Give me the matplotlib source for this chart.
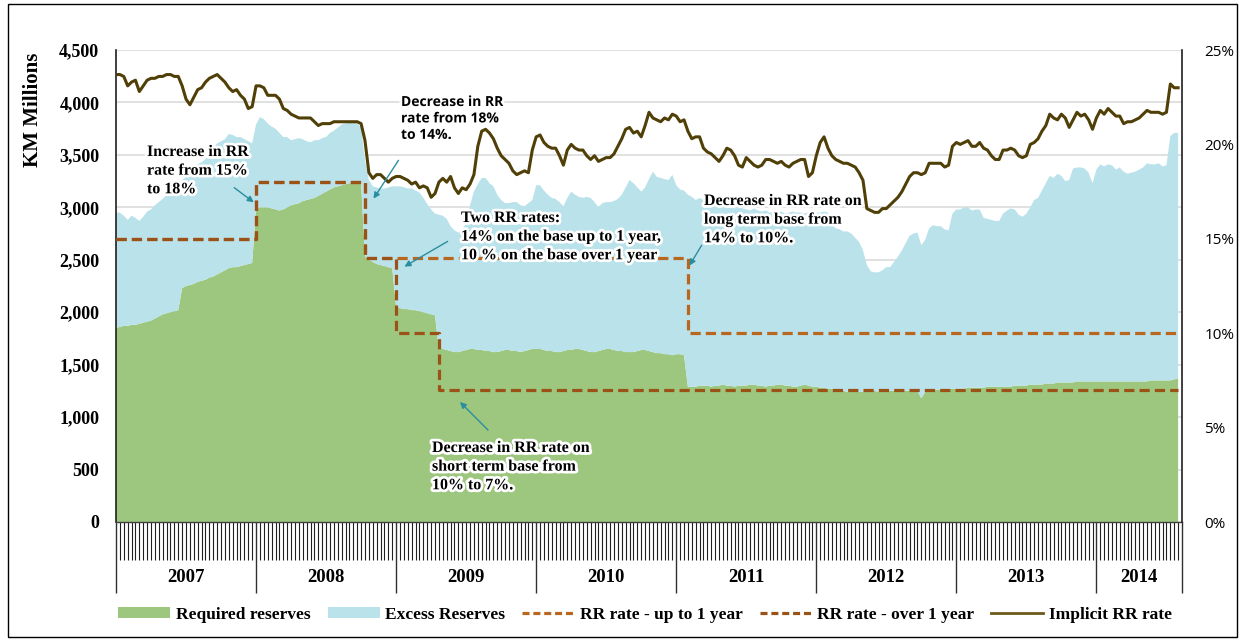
import numpy as np
import matplotlib
matplotlib.use('Agg')
import matplotlib.pyplot as plt
import matplotlib.patheffects as pe
from matplotlib.patches import Patch, Rectangle
from matplotlib.lines import Line2D
from matplotlib.transforms import blended_transform_factory

# ---------------- data (10-day periods, 36 per year) ----------------
years = ['2007', '2008', '2009', '2010', '2011', '2012', '2013', '2014']
periods_per_year = [36, 36, 36, 36, 36, 36, 36, 22]

req_2007 = [1850,1860,1870,1870,1880,1880,1890,1900,1910,1920,1940,1960,1980,1990,2000,2010,2020,2230,
            2250,2260,2270,2290,2300,2310,2330,2340,2360,2380,2400,2420,2430,2430,2440,2450,2460,2470]
req_2008 = [2990,3000,3000,3000,2990,2980,2970,2980,3000,3020,3030,3040,3060,3070,3080,3090,3110,3130,
            3150,3170,3190,3200,3210,3220,3230,3230,3230,3230,2530,2500,2480,2460,2450,2440,2430,2420]
req_2009 = [2050,2040,2030,2030,2020,2020,2010,2000,1990,1980,1970,1650,1650,1640,1630,1620,1620,1630,
            1640,1650,1650,1640,1640,1630,1630,1620,1620,1630,1640,1640,1630,1630,1620,1630,1640,1650]
req_2010 = [1650,1650,1640,1630,1630,1620,1620,1630,1640,1640,1650,1650,1640,1630,1620,1620,1630,1640,
            1650,1650,1640,1630,1630,1620,1620,1620,1630,1640,1640,1630,1620,1610,1610,1600,1600,1590]
req_2011 = [1600,1600,1590,1290,1290,1290,1300,1300,1300,1290,1300,1300,1310,1300,1300,1290,1300,1300,
            1300,1310,1310,1300,1300,1290,1300,1300,1310,1310,1300,1300,1290,1290,1300,1310,1300,1290]
req_2012 = [1290,1280,1280,1270,1270,1260,1250,1250,1240,1240,1240,1240,1240,1250,1250,1250,1240,1240,
            1250,1250,1250,1240,1250,1250,1250,1250,1250,1180,1240,1250,1260,1260,1260,1260,1270,1270]
req_2013 = [1270,1270,1270,1280,1280,1280,1280,1280,1290,1290,1290,1290,1290,1290,1290,1300,1300,1300,
            1300,1310,1310,1310,1310,1320,1320,1320,1330,1330,1330,1330,1330,1340,1340,1340,1340,1340]
req_2014 = [1340,1340,1340,1340,1340,1340,1340,1340,1340,1340,1340,1340,1340,1340,1350,1350,1350,1350,
            1350,1350,1360,1370]

# total reserves (required + excess), KM millions
tot_2007 = [2950,2950,2920,2880,2920,2900,2870,2910,2960,2980,3020,3050,3080,3120,3160,3180,3220,3260,
            3290,3340,3380,3410,3430,3460,3490,3560,3610,3630,3650,3700,3690,3670,3670,3650,3630,3610]
tot_2008 = [3790,3860,3840,3800,3770,3750,3710,3670,3670,3640,3650,3660,3650,3630,3620,3640,3640,3660,
            3670,3710,3730,3760,3790,3800,3810,3810,3800,3760,3450,3260,3200,3190,3180,3180,3190,3200]
tot_2009 = [3200,3200,3190,3180,3180,3160,3140,3090,3030,2980,2940,2930,2920,2890,2820,2780,2760,2770,
            2860,3020,3150,3220,3280,3280,3230,3200,3120,3070,3040,3040,3050,3050,3020,3010,3040,3070]
tot_2010 = [3210,3210,3160,3120,3090,3080,3050,3010,3090,3150,3120,3100,3090,3100,3090,3050,3000,3040,
            3050,3050,3060,3080,3120,3190,3260,3230,3190,3150,3190,3270,3340,3290,3280,3270,3260,3310]
tot_2011 = [3210,3170,3160,3120,3100,3070,3090,3070,3050,3040,3030,3020,3010,3020,3000,2990,3010,2990,
            2980,2970,2990,2970,2960,2970,2950,2960,2950,2960,2940,2950,2960,2950,2950,2940,2960,2950]
tot_2012 = [2950,2950,2960,2950,2840,2800,2790,2770,2770,2750,2710,2670,2590,2450,2390,2380,2380,2400,
            2430,2430,2480,2530,2590,2660,2730,2750,2760,2640,2690,2800,2830,2820,2820,2790,2780,2940]
tot_2013 = [2980,2980,3000,3000,2970,2980,2980,2900,2890,2880,2870,2870,2940,2970,2990,2980,2930,2910,
            2940,3000,3070,3090,3160,3230,3300,3280,3320,3300,3250,3260,3370,3380,3380,3370,3330,3230]
tot_2014 = [3360,3410,3390,3410,3400,3360,3380,3340,3320,3330,3340,3360,3380,3420,3410,3410,3420,3390,
            3400,3680,3710,3710]

# implicit RR rate, %
rate_2007 = [23.7,23.7,23.6,23.1,23.3,23.4,22.8,23.1,23.4,23.5,23.5,23.6,23.6,23.7,23.7,23.6,23.6,23.1,
             22.4,22.1,22.5,22.9,23.0,23.3,23.5,23.6,23.7,23.5,23.3,23.0,22.8,22.9,22.6,22.4,21.9,22.0]
rate_2008 = [23.1,23.1,23.0,22.6,22.6,22.6,22.4,21.9,21.8,21.6,21.5,21.4,21.4,21.4,21.4,21.2,21.0,21.1,
             21.1,21.1,21.2,21.2,21.2,21.2,21.2,21.2,21.2,21.1,20.2,18.5,18.2,18.4,18.4,18.2,18.0,18.2]
rate_2009 = [18.3,18.3,18.2,18.1,17.9,18.0,17.7,17.8,17.7,17.2,17.4,18.0,18.2,18.0,18.3,17.7,17.4,17.7,
             17.6,17.9,18.4,19.9,20.7,20.8,20.6,20.3,19.8,19.4,19.2,19.0,18.6,18.4,18.5,18.6,18.5,19.7]
rate_2010 = [20.4,20.5,20.1,19.9,19.8,19.8,19.4,18.9,19.7,20.0,19.8,19.7,19.7,19.4,19.2,19.4,19.1,19.2,
             19.3,19.3,19.5,19.9,20.3,20.8,20.9,20.6,20.7,20.4,21.0,21.7,21.4,21.3,21.2,21.4,21.3,21.6]
rate_2011 = [21.5,21.2,21.3,20.7,20.3,20.4,20.4,19.8,19.6,19.5,19.3,19.1,19.4,19.8,19.7,19.4,18.9,18.8,
             19.3,19.1,18.9,18.8,18.9,19.2,19.2,19.1,19.0,19.1,18.9,18.8,19.0,19.1,19.2,19.2,18.3,18.5]
rate_2012 = [19.4,20.1,20.4,19.8,19.4,19.2,19.1,19.0,19.0,18.9,18.8,18.5,18.1,16.6,16.5,16.4,16.4,16.6,
             16.6,16.8,17.0,17.2,17.5,17.9,18.3,18.5,18.5,18.4,18.5,19.0,19.0,19.0,19.0,18.8,18.9,19.9]
rate_2013 = [20.1,20.0,20.1,20.2,19.9,19.9,20.1,19.8,19.7,19.4,19.2,19.2,19.7,19.7,19.8,19.7,19.4,19.3,
             19.4,20.0,20.1,20.3,20.7,21.0,21.6,21.4,21.3,21.6,21.4,20.9,21.3,21.7,21.5,21.6,21.3,20.8]
rate_2014 = [21.4,21.8,21.6,21.9,21.7,21.5,21.5,21.1,21.2,21.2,21.3,21.4,21.6,21.8,21.7,21.7,21.7,21.6,
             21.7,23.2,23.0,23.0]

# statutory RR rates: period index where each rate starts, and the rate (%)
rr_short_start = [0, 36, 64, 147]
rr_short_vals = [15, 18, 14, 10]
rr_long_start = [0, 36, 64, 72, 83]
rr_long_vals = [15, 18, 14, 10, 7]

# ---------------- assemble ----------------
required = np.array(req_2007 + req_2008 + req_2009 + req_2010 + req_2011 + req_2012 + req_2013 + req_2014, float)
total = np.array(tot_2007 + tot_2008 + tot_2009 + tot_2010 + tot_2011 + tot_2012 + tot_2013 + tot_2014, float)
excess = total - required
implicit = np.array(rate_2007 + rate_2008 + rate_2009 + rate_2010 + rate_2011 + rate_2012 + rate_2013 + rate_2014)
n = len(required)
x = np.arange(n)
n_axis = sum(periods_per_year)


def step_series(starts, vals, n):
    bounds = list(starts) + [n]
    return np.concatenate([np.full(bounds[i + 1] - bounds[i], v, float) for i, v in enumerate(vals)])


rr_short = step_series(rr_short_start, rr_short_vals, n)
rr_long = step_series(rr_long_start, rr_long_vals, n)

# ---------------- styling ----------------
W, H = 1244, 641
GREEN = '#9dc77f'
BLUE = '#b9e2ea'
DASH_UP = '#b9661f'
DASH_OVER = '#9a5216'
IMPL = '#504008'
ARROW = '#2b8e9e'
SERIF = 'Liberation Serif'

fig = plt.figure(figsize=(W / 100, H / 100), dpi=100)
fig.patch.set_facecolor('white')

L, R, T, B = 116, 1182, 50, 522
ax = fig.add_axes([L / W, 1 - B / H, (R - L) / W, (B - T) / H])
ax.stackplot(x, required, excess, colors=[GREEN, BLUE], linewidth=0, zorder=2)
ax.set_xlim(0, n_axis)
ax.set_ylim(0, 4500)
ax.set_yticks(np.arange(0, 4501, 500))
ax.set_yticklabels([f'{v:,}' for v in range(0, 4501, 500)])
ax.yaxis.grid(True, color='#d9d9d9', lw=1.1, zorder=0)
ax.set_axisbelow(True)
ax.tick_params(axis='y', length=0, pad=12)
for lab in ax.get_yticklabels():
    lab.set_fontfamily(SERIF); lab.set_fontweight('bold'); lab.set_fontsize(13)

for s in ['top', 'right']:
    ax.spines[s].set_visible(False)
ax.spines['left'].set_color('#202020'); ax.spines['left'].set_linewidth(1.2)
ax.spines['bottom'].set_color('#404040'); ax.spines['bottom'].set_linewidth(1.0)

year_edges = np.cumsum([0] + periods_per_year)
ax.set_xticks(year_edges)
ax.set_xticklabels([])
ax.set_xticks(np.arange(0, n_axis + 1), minor=True)
ax.tick_params(axis='x', which='major', length=51, width=1.0, color='#303030', direction='out')
ax.tick_params(axis='x', which='minor', length=27, width=0.8, color='#202020', direction='out')

tr = blended_transform_factory(ax.transData, ax.transAxes)
for i, yl in enumerate(years):
    cx = (year_edges[i] + year_edges[i + 1]) / 2
    ax.text(cx, -(578 - B) / (B - T), yl, transform=tr, ha='center', va='center',
            fontfamily=SERIF, fontweight='bold', fontsize=13.5)

ax2 = ax.twinx()
ax2.set_ylim(0, 25)
ax2.set_xlim(0, n_axis)
ax2.step(x, rr_short, where='post', color=DASH_UP, lw=2.3, dashes=(3.2, 1.6), zorder=3)
ax2.step(x, rr_long, where='post', color=DASH_OVER, lw=2.3, dashes=(3.2, 1.6), zorder=3)
ax2.plot(x, implicit, color=IMPL, lw=2.2, zorder=4)
ax2.set_yticks(np.arange(0, 26, 5))
ax2.set_yticklabels([f'{v}%' for v in range(0, 26, 5)])
ax2.tick_params(axis='y', length=0, pad=16)
for lab in ax2.get_yticklabels():
    lab.set_fontfamily('Open Sans'); lab.set_fontsize(11)
for s in ['top', 'left', 'bottom']:
    ax2.spines[s].set_visible(False)
ax2.spines['right'].set_color('#202020'); ax2.spines['right'].set_linewidth(1.2)

fig.text(33 / W, 1 - 110 / H, 'KM Millions', rotation=90, ha='center', va='center',
         fontfamily=SERIF, fontweight='bold', fontsize=15)

# ---------------- annotations ----------------
glow = [pe.withStroke(linewidth=4, foreground='white')]


def note(px, py, s, family=SERIF, size=11.5):
    fig.text(px / W, 1 - py / H, s, ha='left', va='top', fontfamily=family, fontweight='bold',
             fontsize=size, linespacing=1.22, path_effects=glow, zorder=10)


def arrow(x0, y0, x1, y1):
    fig.add_artist(matplotlib.patches.FancyArrowPatch(
        (x0 / W, 1 - y0 / H), (x1 / W, 1 - y1 / H), transform=fig.transFigure,
        arrowstyle='-|>', mutation_scale=9, color=ARROW, lw=1.0, zorder=11))


note(147, 144, 'Increase in RR\nrate from 15%\nto 18%')
arrow(232, 186, 256, 204)
note(401, 95, 'Decrease in RR\nrate from 18%\nto 14%.', family='Open Sans', size=10)
arrow(400, 158, 372, 201)
note(461, 210, 'Two RR rates:\n14% on the base up to 1 year,\n10 % on the base over 1 year')
arrow(450, 240, 402, 268)
note(704, 193, 'Decrease in RR rate on\nlong term base from\n14% to 10%.')
arrow(703, 243, 688, 268)
note(432, 440, 'Decrease in RR rate on\nshort term base from\n10% to 7%.')
arrow(490, 432, 458, 400)

# ---------------- legend ----------------
handles = [Patch(facecolor=GREEN, edgecolor='none'),
           Patch(facecolor=BLUE, edgecolor='none'),
           Line2D([], [], color=DASH_UP, lw=2.3, dashes=(2.2, 1.2)),
           Line2D([], [], color=DASH_OVER, lw=2.3, dashes=(2.2, 1.2)),
           Line2D([], [], color='#6b5a18', lw=2.0)]
labels = ['Required reserves', 'Excess Reserves', 'RR rate - up to 1 year',
          'RR rate - over 1 year', 'Implicit RR rate']
fig.legend(handles, labels, loc='center', bbox_to_anchor=(645 / W, 1 - 615 / H), ncol=5,
           frameon=False, prop={'family': SERIF, 'weight': 'bold', 'size': 12.5},
           handlelength=3.0, handleheight=0.6, handletextpad=0.3, columnspacing=1.0)

fig.add_artist(Rectangle((8 / W, 4 / H), (1237 - 8) / W, (637 - 4) / H, transform=fig.transFigure,
                         fill=False, edgecolor='black', lw=1.0))

fig.savefig('out.png', dpi=100, facecolor='white')
